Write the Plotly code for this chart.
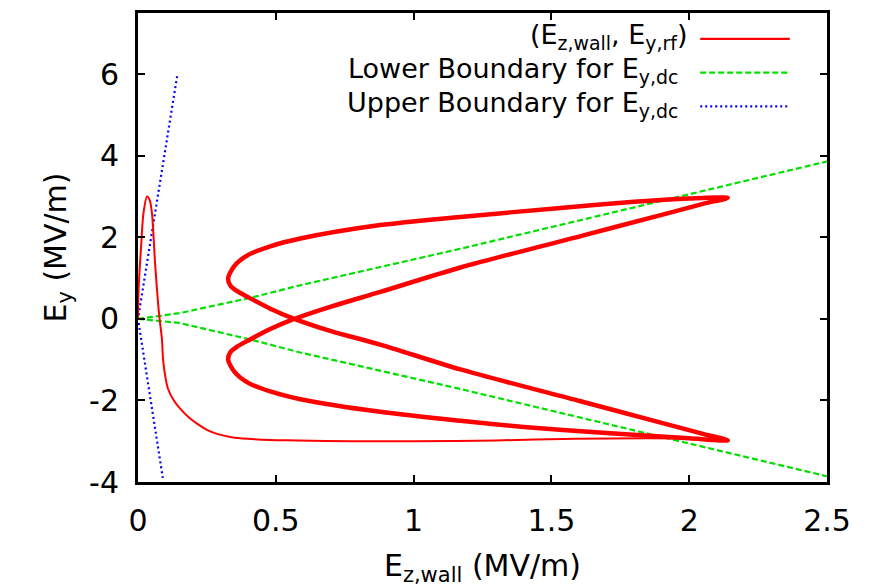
import plotly.graph_objects as go

# ---- data -------------------------------------------------------------
# start-up transient of the wall field trajectory
transient_ez = [0.0, 0.002, 0.011, 0.02, 0.033, 0.043, 0.051, 0.062, 0.076, 0.087,
                0.091, 0.1, 0.109, 0.13, 0.153, 0.185, 0.214, 0.25, 0.287, 0.34,
                0.396, 0.48, 0.578, 0.77, 1.0, 1.3, 1.59, 1.85, 2.05, 2.14]
transient_ey = [0.0, 0.7, 1.75, 2.6, 3.0, 2.9, 2.57, 1.36, 0.15, -0.51,
                -1.0, -1.45, -1.72, -2.0, -2.2, -2.42, -2.57, -2.72, -2.82, -2.9,
                -2.94, -2.97, -2.98, -3.0, -3.0, -2.98, -2.94, -2.93, -2.95, -2.98]

# steady-state cycle
cycle_ez = [2.14, 2.0, 1.8, 1.533, 1.17, 0.879, 0.589, 0.48, 0.4, 0.35, 0.327,
            0.335, 0.36, 0.4, 0.48, 0.56, 0.7, 0.879, 1.17, 1.606, 1.9, 2.05, 2.14,
            2.0, 1.7, 1.4, 1.17, 0.879, 0.589, 0.48, 0.4, 0.35, 0.327,
            0.335, 0.36, 0.4, 0.48, 0.56, 0.7, 0.879, 1.17, 1.606, 1.9, 2.05, 2.14]
cycle_ey = [2.97, 2.95, 2.87, 2.72, 2.5, 2.3, 1.97, 1.78, 1.57, 1.3, 1.0,
            0.82, 0.68, 0.53, 0.25, 0.02, -0.3, -0.63, -1.24, -2.02, -2.55, -2.82, -2.98,
            -2.93, -2.8, -2.65, -2.5, -2.28, -1.97, -1.78, -1.57, -1.3, -1.0,
            -0.82, -0.68, -0.53, -0.25, -0.02, 0.3, 0.66, 1.26, 2.03, 2.55, 2.82, 2.97]

# lower boundary for the dc field (upper and lower branches)
lower_upper_ez = [0.0, 0.15, 0.41, 0.589, 1.17, 2.5]
lower_upper_ey = [0.0, 0.14, 0.52, 0.825, 1.72, 3.86]
lower_lower_ez = [0.0, 0.15, 0.41, 0.589, 1.17, 2.5]
lower_lower_ey = [0.0, -0.1, -0.51, -0.825, -1.72, -3.86]

# upper boundary for the dc field
upper_ez = [0.142, 0.0, 0.09]
upper_ey = [5.95, 0.0, -3.9]

names = ["(E<sub>z,wall</sub>, E<sub>y,rf</sub>)",
         "Lower Boundary for E<sub>y,dc</sub>",
         "Upper Boundary for E<sub>y,dc</sub>"]
colors = ["#ff0000", "#00e000", "#0000ff"]
dashes = ["solid", "6px,3px", "2px,3px"]

x_ticks = [0, 0.5, 1, 1.5, 2, 2.5]
x_ticktext = ["0", "0.5", "1", "1.5", "2", "2.5"]
y_ticks = [-4, -2, 0, 2, 4, 6]
y_ticktext = ["-4", "-2", "0", "2", "4", "6"]

FONT = "DejaVu Sans"
FS = 30
KEY_FS = 27

fig = go.Figure()

fig.add_trace(go.Scatter(x=lower_upper_ez, y=lower_upper_ey, mode="lines",
                         line=dict(color=colors[1], width=2.2, dash=dashes[1]),
                         name=names[1], showlegend=False))
fig.add_trace(go.Scatter(x=lower_lower_ez, y=lower_lower_ey, mode="lines",
                         line=dict(color=colors[1], width=2.2, dash=dashes[1]),
                         name=names[1], showlegend=False))
fig.add_trace(go.Scatter(x=upper_ez, y=upper_ey, mode="lines",
                         line=dict(color=colors[2], width=2.2, dash=dashes[2]),
                         name=names[2], showlegend=False))
fig.add_trace(go.Scatter(x=transient_ez, y=transient_ey, mode="lines",
                         line=dict(color=colors[0], width=2, shape="spline", smoothing=0.8),
                         name=names[0], showlegend=False))
fig.add_trace(go.Scatter(x=cycle_ez, y=cycle_ey, mode="lines",
                         line=dict(color=colors[0], width=4.5, shape="spline", smoothing=0.8),
                         name=names[0], showlegend=False))

# gnuplot-style key: right-aligned text with the line sample to its right
key_rows_y = [0.949, 0.877, 0.805]
key_text_x = [0.80, 0.787, 0.787]
for name, col, dash, yy, tx in zip(names, colors, dashes, key_rows_y, key_text_x):
    fig.add_annotation(x=tx, y=yy, xref="paper", yref="paper", text=name,
                       showarrow=False, xanchor="right", yanchor="middle",
                       font=dict(family=FONT, size=KEY_FS, color="black"))
    fig.add_shape(type="line", xref="paper", yref="paper",
                  x0=0.816, x1=0.946, y0=yy - 0.004, y1=yy - 0.004,
                  line=dict(color=col, width=2.2, dash=dash))

axis_common = dict(showline=True, linewidth=3, linecolor="black", mirror="ticks",
                   ticks="inside", ticklen=7, tickwidth=2, tickcolor="black",
                   showgrid=False, zeroline=False,
                   tickfont=dict(family=FONT, size=FS, color="black"))

fig.update_xaxes(range=[0, 2.5], tickvals=x_ticks, ticktext=x_ticktext,
                 ticklabelstandoff=10,
                 title=dict(text="E<sub>z,wall</sub> (MV/m)", standoff=18,
                            font=dict(family=FONT, size=FS, color="black")),
                 **axis_common)
fig.update_yaxes(range=[-4, 7.5], tickvals=y_ticks, ticktext=y_ticktext,
                 ticklabelstandoff=10,
                 title=dict(text="E<sub>y</sub> (MV/m)", standoff=14,
                            font=dict(family=FONT, size=FS, color="black")),
                 **axis_common)

fig.update_layout(width=869, height=587,
                  margin=dict(l=138, r=42, t=10, b=103),
                  paper_bgcolor="white", plot_bgcolor="white",
                  showlegend=False)

fig.write_html("out.html")
